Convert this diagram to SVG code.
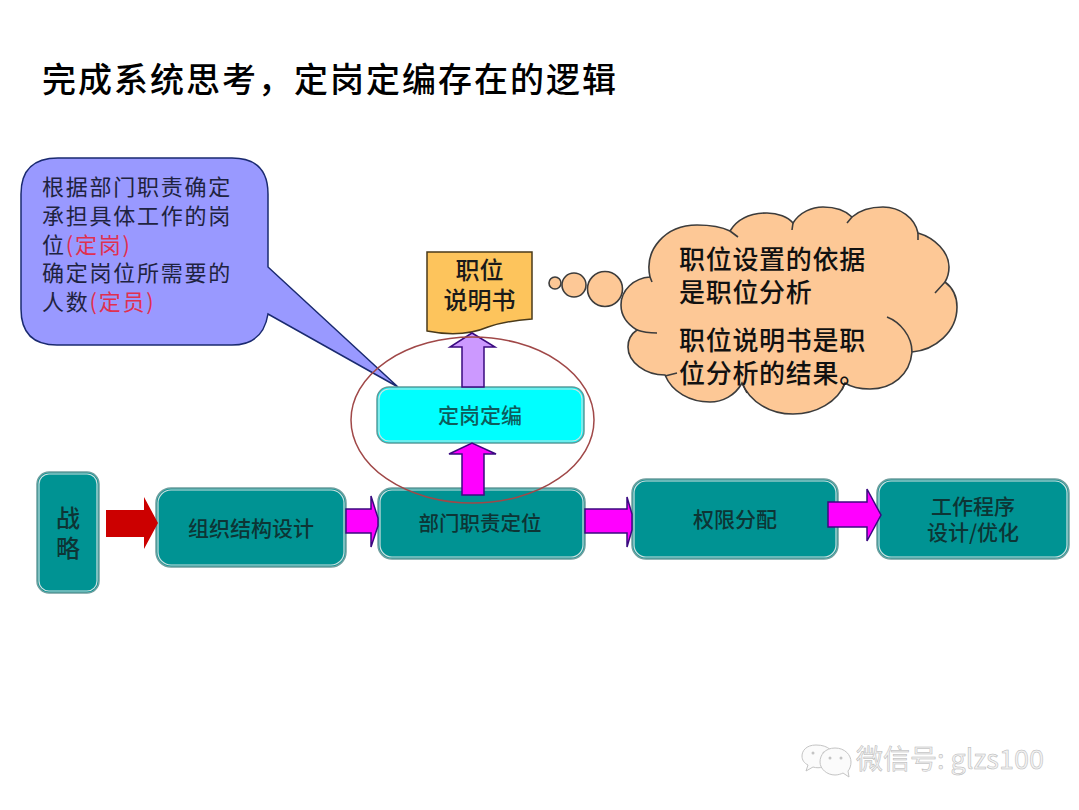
<svg xmlns="http://www.w3.org/2000/svg" width="1079" height="810" viewBox="0 0 1079 810">
<style>
text{font-family:"Noto Sans CJK SC","Noto Sans",sans-serif;}
.t{text-anchor:middle;font-weight:500;fill:#0d3535;}
.box{fill:#009393;stroke:#6f9f9f;stroke-width:1.5;}
.in{fill:none;stroke:#cfe0e0;stroke-width:1.2;}
.m{fill:#ff00ff;stroke:#3a0a80;stroke-width:1.5;}
.th{fill:#fdc896;stroke:#3c3c3c;stroke-width:1.6;}
.wm{fill:#fbfbfb;stroke:#c4c4c4;stroke-width:1;}
.eye{fill:#c4c4c4;}
</style>
<rect width="1079" height="810" fill="#fff"/>
<text x="42" y="92" font-size="34" letter-spacing="2" font-weight="500" fill="#000">完成系统思考，定岗定编存在的逻辑</text>
<g id="n-callout">
<path d="M58,158 H232 Q268,158 268,194 V267 L398,387 L268,314 Q263,345 232,345 H57 Q21,345 21,309 V194 Q21,158 58,158 Z" fill="#9999ff" stroke="#1a2a70" stroke-width="1.5"/>
<text font-size="22" letter-spacing="1.75" fill="#1f2340"><tspan x="42" y="195">根据部门职责确定</tspan><tspan x="42" y="224">承担具体工作的岗</tspan><tspan x="42" y="253">位<tspan fill="#e03050">(定岗)</tspan></tspan><tspan x="42" y="281">确定岗位所需要的</tspan><tspan x="42" y="310">人数<tspan fill="#e03050">(定员)</tspan></tspan></text>
</g>
<g id="n-doc">
<path d="M427,252 H532 V319 Q505,321 488,327 Q462,338 427,331 Z" fill="#fdc45c" stroke="#4a3a1a" stroke-width="1.5"/>
<text font-size="24" font-weight="500" fill="#1a1a1a" text-anchor="middle"><tspan x="479.500" y="279">职位</tspan><tspan x="479.500" y="309">说明书</tspan></text>
</g>
<g id="n-cloud">
<circle class="th" cx="555" cy="283" r="6"/><circle class="th" cx="574" cy="285" r="12"/><circle class="th" cx="605" cy="289" r="17.500"/>
<path class="th" d="M650,277 C644,250 665,225 697,225 C710,225 722,227 730,231 C738,218 752,213 767,213 C778,213 788,217 793,223 C800,212 812,207 823,207 C835,207 846,211 852,217 C860,210 872,207 883,207 C900,207 915,218 918,233 C935,238 949,252 949,267 C949,272 948,277 945,282 C953,288 957,297 957,307 C957,332 935,350 912,352 C910,375 892,389 870,389 C860,389 851,387 845,383 C838,402 816,414 793,414 C770,414 750,402 742,383 C735,396 722,402 710,402 C690,402 672,392 665,375 C645,375 628,362 628,347 C628,340 631,334 637,330 C627,324 621,315 621,305 C621,290 634,278 650,277 Z"/>
<path d="M650,277 L652,282 M730,231 L738,237 M793,223 L792,230 M852,217 L847,223 M918,233 L918,240 M945,282 L935,293 M887,317 C900,322 912,336 912,352 M845,383 L842,390 M742,383 L747,393 M665,376 L677,373 M637,330 C645,333 650,333 657,333" fill="none" stroke="#3c3c3c" stroke-width="1.6"/>
<text font-size="26" letter-spacing=".7" font-weight="500" fill="#111"><tspan x="679" y="269">职位设置的依据</tspan><tspan x="679" y="302">是职位分析</tspan><tspan x="679" y="350">职位说明书是职</tspan><tspan x="679" y="383">位分析的结果。</tspan></text>
</g>
<g id="n-dgdb">
<rect x="377" y="387" width="207" height="56" rx="12" fill="#00ffff" stroke="#5f9a9a" stroke-width="1.5"/>
<rect class="in" x="379" y="389" width="203" height="52" rx="10"/>
<text class="t" x="480" y="423" font-size="21" style="fill:#0d5c5c">定岗定编</text>
</g>
<g id="n-zl">
<rect class="box" x="37" y="472" width="62" height="121" rx="12"/>
<rect class="in" x="39" y="474" width="58" height="117" rx="10"/>
<text class="t" font-size="24"><tspan x="68" y="527">战</tspan><tspan x="68" y="557">略</tspan></text>
</g>
<g id="n-zzjg">
<rect class="box" x="156" y="488" width="190" height="79" rx="15"/>
<rect class="in" x="158" y="490" width="186" height="75" rx="13"/>
<text class="t" x="251" y="536" font-size="21">组织结构设计</text>
</g>
<g id="n-bmzz">
<rect class="box" x="378" y="488" width="207" height="71" rx="14"/>
<rect class="in" x="380" y="490" width="203" height="67" rx="12"/>
<text class="t" x="480" y="531" font-size="20.500">部门职责定位</text>
</g>
<g id="n-qx">
<rect class="box" x="632" y="479" width="206" height="80" rx="14"/>
<rect class="in" x="634" y="481" width="202" height="76" rx="12"/>
<text class="t" x="735" y="527" font-size="21">权限分配</text>
</g>
<g id="n-gz">
<rect class="box" x="877" y="479" width="192" height="80" rx="14"/>
<rect class="in" x="879" y="481" width="188" height="76" rx="12"/>
<text class="t" font-size="21"><tspan x="973" y="514">工作程序</tspan><tspan x="973" y="540">设计/优化</tspan></text>
</g>
<g id="connectors">
<polygon points="106,510 144,510 144,497 158,523 144,549 144,537 106,537" fill="#cc0000"/>
<polygon class="m" points="346,509 371,509 371,496 378,518 378,526 371,547 371,533 346,533"/>
<polygon class="m" points="585,509 627,509 627,497 632,514 632,530 627,547 627,533 585,533"/>
<polygon class="m" points="828,502 867,502 867,489 881,515 867,541 867,527 828,527"/>
<polygon class="m" points="462,495 462,454 449,454 472,443 496,454 484,454 484,495"/>
<polygon points="462,387 462,347 450,347 472,333 495,347 484,347 484,387" fill="#cc99ff" stroke="#3a0a80" stroke-width="1.500"/>
</g>
<ellipse id="n-ring" cx="472.500" cy="420" rx="121.500" ry="83" fill="none" stroke="#a04848" stroke-width="1.500"/>
<g id="watermark">
<path class="wm" d="M816,745 C806,745 802,751 802,756 C802,760 804,763 808,765 L806,771 L813,767 C816,768 820,768 823,767 C838,765 838,745 816,745 Z"/>
<circle class="eye" cx="813" cy="753" r="1.500"/><circle class="eye" cx="824" cy="753" r="1.500"/>
<path class="wm" d="M835,748 C825,748 820,755 820,762 C820,769 827,775 835,775 C838,775 841,774 843,773 L849,777 L848,771 C850,769 851,765 851,762 C851,755 845,748 835,748 Z"/>
<circle class="eye" cx="830" cy="758" r="1.500"/><circle class="eye" cx="841" cy="758" r="1.500"/>
<text x="856" y="769" font-size="27" fill="#f2f2f2" stroke="#b5b5b5" stroke-width=".5">微信号: glzs100</text>
</g>
</svg>
